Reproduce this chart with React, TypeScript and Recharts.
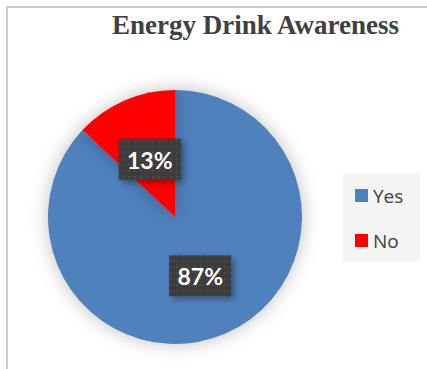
import React from 'react';
import { PieChart, Pie, Cell, Legend } from 'recharts';

const categories = ['Yes', 'No'];
const shares = [87, 13];
const colors = ['#4f81bd', '#ff0000'];

const data = categories.map((name, i) => ({ name, value: shares[i] }));

const RADIAN = Math.PI / 180;

const renderLabel = (props: any) => {
  const { cx, cy, midAngle, outerRadius, value } = props;
  const r = outerRadius * 0.5;
  const x = cx + r * Math.cos(-midAngle * RADIAN);
  const y = cy + r * Math.sin(-midAngle * RADIAN);
  return (
    <g>
      <rect x={x - 31} y={y - 20} width={62} height={41} fill="url(#dots)" filter="url(#boxShadow)" />
      <text
        x={x}
        y={y + 1}
        textAnchor="middle"
        dominantBaseline="central"
        fill="#ffffff"
        fontFamily="Lato, 'Open Sans', sans-serif"
        fontWeight={700}
        fontSize={23}
      >
        {value}%
      </text>
    </g>
  );
};

// keep legend in the same order as the categories
const LegendBox = ({ payload }: any) => {
  const items = [...(payload || [])].sort(
    (a: any, b: any) => categories.indexOf(a.value) - categories.indexOf(b.value)
  );
  return (
    <div style={{ background: '#f4f4f4', width: 77, height: 89, boxSizing: 'border-box', paddingTop: 5, paddingLeft: 12 }}>
      {items.map((p: any) => (
        <div key={p.value} style={{ display: 'flex', alignItems: 'center', height: 35, marginBottom: 10 }}>
          <span style={{ display: 'inline-block', width: 13, height: 13, background: p.color, marginRight: 5 }} />
          <span style={{ fontFamily: "'Open Sans', sans-serif", fontSize: 19, color: '#404040' }}>{p.value}</span>
        </div>
      ))}
    </div>
  );
};

export default function App() {
  return (
    <div style={{ position: 'relative', width: 427, height: 369, background: '#fff' }}>
      <style>{`body{margin:0}.recharts-pie-sector{filter:drop-shadow(0 0 9px rgba(0,0,0,0.25))}`}</style>
      <div style={{ position: 'absolute', left: 6, top: 6, right: 0, bottom: 0, borderTop: '2px solid #c9c9c9', borderLeft: '2px solid #c9c9c9' }} />
      <div
        style={{
          position: 'absolute',
          left: 112,
          top: 10,
          fontFamily: "'Liberation Serif', 'Times New Roman', serif",
          fontWeight: 700,
          fontSize: 27,
          color: '#404040',
          whiteSpace: 'nowrap',
        }}
      >
        Energy Drink Awareness
      </div>
      <PieChart
        width={427}
        height={369}
        margin={{ top: 0, right: 0, bottom: 0, left: 0 }}
        style={{ position: 'absolute', left: 0, top: 0 }}
      >
        <defs>
          <pattern id="dots" width="6" height="6" patternUnits="userSpaceOnUse">
            <rect width="6" height="6" fill="#3d3d3d" />
            <circle cx="3" cy="3" r="1" fill="#4e4e4e" />
          </pattern>
          <filter id="boxShadow" x="-20%" y="-20%" width="150%" height="160%">
            <feDropShadow dx="3" dy="3" stdDeviation="3" floodColor="#000" floodOpacity="0.35" />
          </filter>
        </defs>
        <Pie
          data={data}
          dataKey="value"
          nameKey="name"
          cx={175}
          cy={217}
          outerRadius={127}
          startAngle={90}
          endAngle={-270}
          stroke="none"
          label={renderLabel}
          labelLine={false}
          isAnimationActive={false}
        >
          {data.map((d, i) => (
            <Cell key={d.name} fill={colors[i]} />
          ))}
        </Pie>
        <Legend
          layout="vertical"
          content={<LegendBox />}
          wrapperStyle={{ left: 343, top: 173, width: 77, height: 89 }}
        />
      </PieChart>
    </div>
  );
}
